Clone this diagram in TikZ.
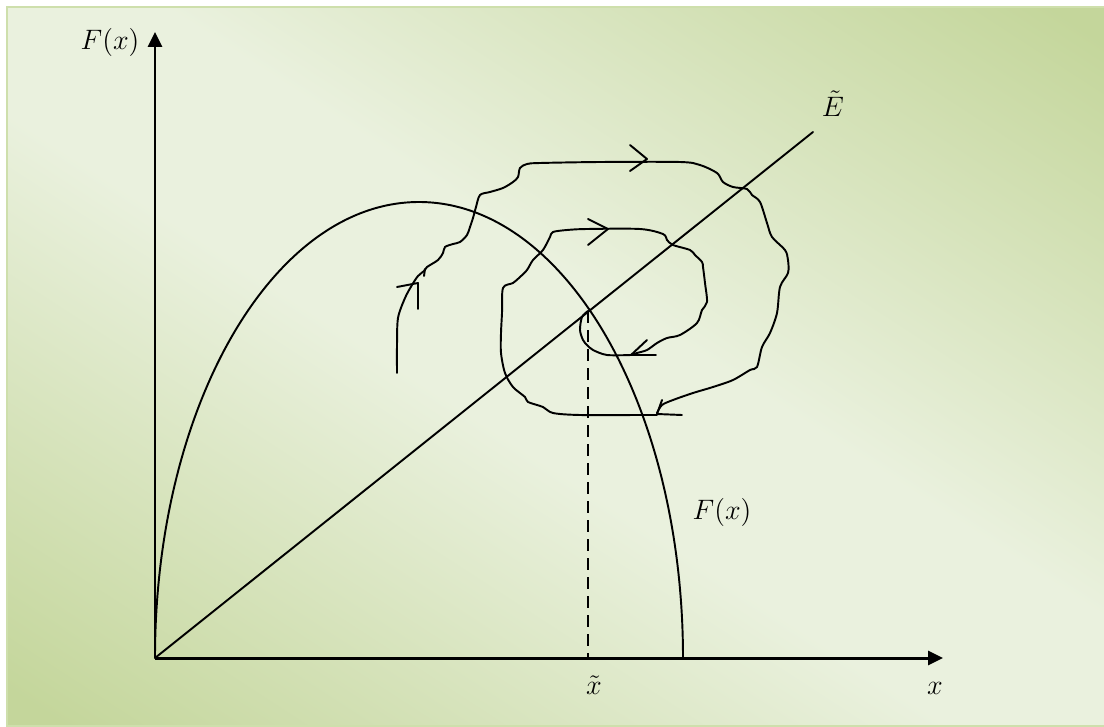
\RequirePackage{fix-cm}
\documentclass[tikz,border=0pt]{standalone}
\usepackage{amsmath,amssymb}
\usepackage{xcolor}
\usepackage{tikz}
\usetikzlibrary{arrows.meta,calc,positioning}

\definecolor{bglight}{RGB}{234,241,222}
\definecolor{bgdark}{RGB}{196,214,155}
\definecolor{bgedge}{RGB}{206,223,172}
\pgfdeclareverticalshading{bgshade}{100bp}{color(0bp)=(bgdark); color(17bp)=(bgdark);
  color(45bp)=(bglight); color(55bp)=(bglight); color(83bp)=(bgdark); color(100bp)=(bgdark)}

\begin{document}
\begin{tikzpicture}[x=0.2mm, y=-0.2mm, >={Triangle[length=3mm,width=2.8mm]},
  axis/.style={line width=1.7pt, ->},
  curve/.style={line width=1.1pt, line join=round, line cap=round},
  dropline/.style={line width=1.3pt, dash pattern=on 2.4mm off 1.4mm},
  lbl/.style={font=\fontsize{16}{19}\selectfont}]
  \useasboundingbox (0,0) rectangle (1104,727);
  % background
  \shade[shading=bgshade, shading angle=-33] (7,7) rectangle (1110,727);
  \draw[bgedge, line width=0.4mm] (7,7) rectangle (1110,726);

  \coordinate (O) at (155,658);
  \coordinate (ytip) at (155,32);
  \coordinate (xtip) at (943,658);
  \coordinate (Eend) at (813,132);
  \coordinate (eq) at (588,311);

  % axes
  \draw[axis] (O) -- (ytip);
  \draw[axis] (O) -- (xtip);

  \node[lbl] (Fy) at (110,42) {$F(x)$};
  \node[lbl] (xl) at (935,688) {$x$};
  \node[lbl] (xt) at (594,685) {$\tilde{x}$};
  \node[lbl] (El) at (833,104) {$\tilde{E}$};
  \node[lbl] (Fc) at (722,512) {$F(x)$};

  % curves
  \draw[curve] (O) arc[start angle=180, end angle=360, x radius=264, y radius=456];
  \draw[curve] (O) -- (Eend);
  \draw[dropline] (eq) -- (eq |- O);

  % spiral
  \draw[curve] plot[smooth, tension=0.5] coordinates {
    (397,373) (397,345) (398,318) (405,298) (412,285) (418,276) (424,271)
    (427,267) (438,260) (443,253) (445,247) (453,244) (460,242) (467,235)
    (470,227) (473,218) (476,207) (480,195) (490,192) (503,188) (513,182)
    (518,177) (520,168) (527,164) (540,163) (600,162) (680,162) (700,165)
    (717,173) (723,182) (733,187) (747,189) (752,195) (760,202) (767,223)
    (772,237) (785,250) (788,260) (788,273) (780,287) (777,313) (770,333)
    (762,347) (757,367) (750,370) (733,380) (713,387) (693,393) (673,400)
    (662,405) (657,413)};
  \draw[curve] plot[smooth, tension=0.5] coordinates {
    (657,415) (640,415) (580,415) (553,413) (543,407) (528,402) (525,397)
    (513,387) (505,373) (501,353) (501,333) (502,313) (503,288) (513,283)
    (520,277) (527,270) (533,260) (543,250) (550,237) (553,232) (567,230)
    (587,229) (640,229) (663,234) (667,240) (673,245) (690,250) (695,255)
    (702,262) (703,267) (705,283) (707,302) (702,310) (697,323) (680,335)
    (667,338) (657,343) (647,350) (637,353) (631,355)};
  \draw[curve] plot[smooth, tension=0.5] coordinates {
    (631,355) (607,355) (593,350) (587,345) (583,340) (580,330) (582,317) (eq)};

  % hand drawn arrow marks
  \draw[curve] (397,287) -- (418,283) -- (418,309);
  \draw[curve] (425,269) -- (424,276);
  \draw[curve] (630,145) -- (647,159) -- (630,171);
  \draw[curve] (588,219) -- (608,229) -- (588,245);
  \draw[curve] (662,400) -- (657,414) -- (682,415);
  \draw[curve] (647,340) -- (631,355) -- (656,355);
\end{tikzpicture}
\end{document}
